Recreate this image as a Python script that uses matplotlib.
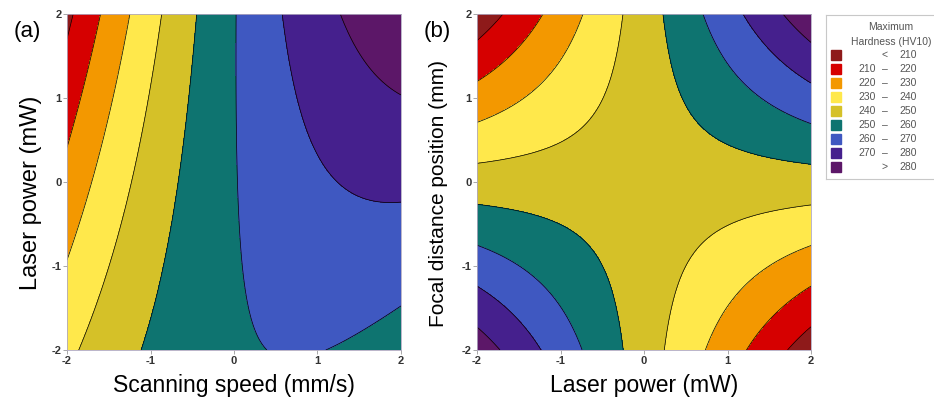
import matplotlib
matplotlib.use("Agg")
import matplotlib.pyplot as plt
import numpy as np

plt.rcParams["font.family"] = ["Liberation Sans", "DejaVu Sans"]
plt.rcParams["axes.unicode_minus"] = False

# hardness class limits (HV10) and their colours
levels = [210, 220, 230, 240, 250, 260, 270, 280]
colors = ["#8E1A1A", "#D60000", "#F39800", "#FFE84B", "#D5C128",
          "#0E7470", "#3F58C1", "#45208D", "#5C1768"]
legend_labels = [("", "<", "210"), ("210", "\u2013", "220"), ("220", "\u2013", "230"),
                 ("230", "\u2013", "240"), ("240", "\u2013", "250"), ("250", "\u2013", "260"),
                 ("260", "\u2013", "270"), ("270", "\u2013", "280"), ("", ">", "280")]

# response surface coefficients
# order: const, x, y, x^2, y^2, x*y
coef_a = [259.5, 12.2, 0.2, -3.0, -0.1, 3.86]   # x = scanning speed, y = laser power
coef_b = [245.1, 0.27, 0.08, 0.0, 0.0, 10.3]    # x = laser power, y = focal distance

ticks = [-2, -1, 0, 1, 2]
tick_labels = ["-2", "-1", "0", "1", "2"]

panels = [
    ("(a)", coef_a, "Scanning speed (mm/s)", "Laser power (mW)", 17, -25),
    ("(b)", coef_b, "Laser power (mW)", "Focal distance position (mm)", 15, -29),
]


def surface(c, x, y):
    return c[0] + c[1]*x + c[2]*y + c[3]*x**2 + c[4]*y**2 + c[5]*x*y


W, H = 934, 401
fig = plt.figure(figsize=(W/100, H/100), dpi=100)

g = np.linspace(-2, 2, 301)
X, Y = np.meshgrid(g, g)
fill_levels = [0] + levels + [1000]

lefts = [67, 477]
for (tag, c, xl, yl, ysize, ypad), left in zip(panels, lefts):
    ax = fig.add_axes([left/W, 1 - 350/H, 334/W, 336/H])
    Z = surface(c, X, Y)
    ax.contourf(X, Y, Z, levels=fill_levels, colors=colors)
    ax.contour(X, Y, Z, levels=levels, colors="black", linewidths=0.5)
    ax.set_xlim(-2, 2)
    ax.set_ylim(-2, 2)
    ax.set_xticks(ticks, tick_labels)
    ax.set_yticks(ticks, tick_labels)
    ax.tick_params(length=3, width=0.6, colors="#9a9a9a", labelcolor="#333333",
                   labelsize=8, pad=1)
    for lab in ax.get_xticklabels() + ax.get_yticklabels():
        lab.set_fontweight("bold")
    for s in ax.spines.values():
        s.set_color("#b0a8c0")
        s.set_linewidth(0.6)
    ax.set_xlabel(xl, fontsize=16.5, labelpad=6)
    ax.set_ylabel(yl, fontsize=ysize)
    ax.yaxis.set_label_coords(ypad/334, 0.467)
    fig.text((left - 53)/W, 1 - 32/H, tag, fontsize=16, va="center", ha="left")

# legend box drawn in pixel coordinates
lax = fig.add_axes([826/W, 1 - 179/H, 120/W, 164/H])
lax.set_xlim(826, 946)
lax.set_ylim(179, 15)
lax.set_xticks([])
lax.set_yticks([])
for s in lax.spines.values():
    s.set_color("#c8c8c8")
    s.set_linewidth(0.8)
lax.text(891, 27, "Maximum", ha="center", va="center", fontsize=7.5, color="#555555")
lax.text(891, 42, "Hardness (HV10)", ha="center", va="center", fontsize=7.5, color="#555555")
for i, (col, (lo, sep, hi)) in enumerate(zip(colors, legend_labels)):
    yy = 55 + i*14
    lax.add_patch(plt.Rectangle((831, yy - 5), 10, 10, color=col))
    lax.text(876, yy, lo, ha="right", va="center", fontsize=7.5, color="#555555")
    lax.text(885, yy, sep, ha="center", va="center", fontsize=7.5, color="#555555")
    lax.text(917, yy, hi, ha="right", va="center", fontsize=7.5, color="#555555")

fig.savefig("out.png", dpi=100)
